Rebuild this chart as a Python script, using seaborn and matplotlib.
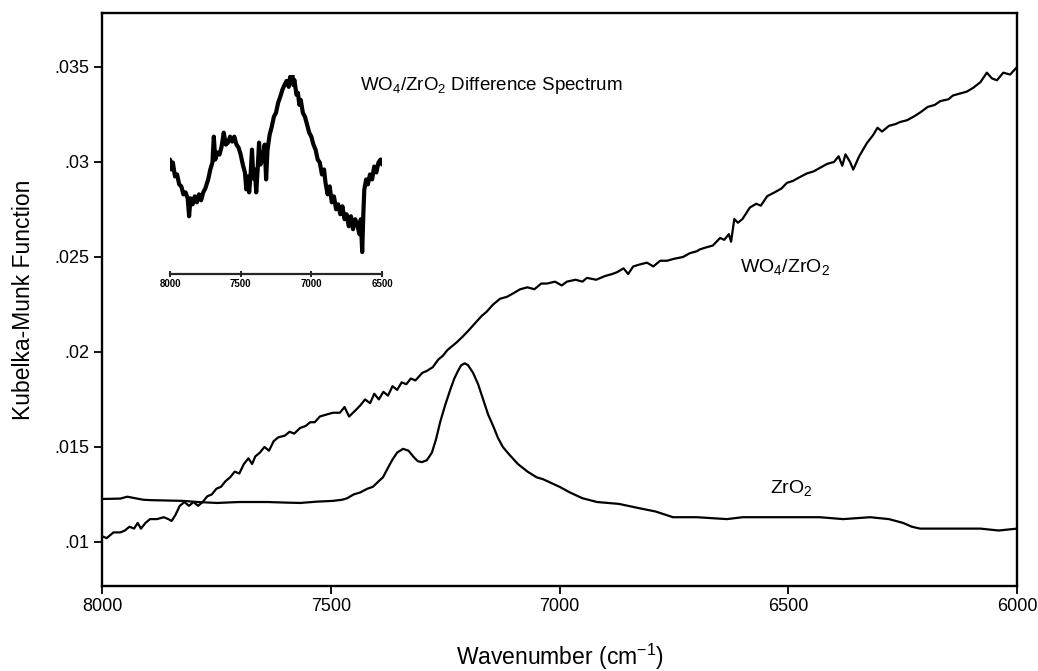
import matplotlib
matplotlib.use("Agg")
import matplotlib.pyplot as plt
import numpy as np
import pandas as pd
import seaborn as sns

# --- data ---
wo4_wn = [8000, 7990, 7975, 7960, 7950, 7940, 7930, 7922, 7915, 7905, 7895, 7880, 7865, 7855, 7848,
          7840, 7830, 7820, 7810, 7800, 7790, 7780, 7770, 7760, 7750, 7740, 7730, 7720, 7710, 7700,
          7690, 7680, 7672, 7665, 7655, 7645, 7635, 7625, 7615, 7600, 7590, 7580, 7567, 7555, 7545,
          7535, 7524, 7510, 7495, 7480, 7470, 7460, 7447, 7435, 7425, 7414, 7405, 7395, 7385, 7375,
          7365, 7355, 7345, 7335, 7325, 7315, 7300, 7290, 7277, 7265, 7255, 7245, 7235, 7225, 7212,
          7200, 7185, 7170, 7160, 7145, 7130, 7115, 7100, 7086, 7070, 7055, 7040, 7027, 7010, 6995,
          6984, 6965, 6950, 6940, 6920, 6900, 6885, 6874, 6860, 6850, 6839, 6825, 6809, 6795, 6780,
          6765, 6750, 6730, 6715, 6700, 6693, 6680, 6665, 6649, 6640, 6630, 6625, 6618, 6610, 6600,
          6584, 6570, 6560, 6546, 6530, 6515, 6503, 6490, 6475, 6459, 6445, 6430, 6415, 6400, 6390,
          6382, 6375, 6365, 6358, 6345, 6328, 6315, 6305, 6295, 6280, 6265, 6256, 6240, 6225, 6212,
          6195, 6180, 6168, 6150, 6140, 6125, 6110, 6096, 6080, 6066, 6055, 6044, 6030, 6015, 6000]
wo4_km = [0.0103, 0.0102, 0.0105, 0.0105, 0.0106, 0.0108, 0.0107, 0.0110, 0.0107, 0.0110, 0.0112, 0.0112,
          0.0113, 0.0112, 0.0111, 0.0114, 0.0119, 0.0121, 0.0119, 0.0121, 0.0119, 0.0121, 0.0124, 0.0125,
          0.0128, 0.0129, 0.0132, 0.0134, 0.0137, 0.0136, 0.0141, 0.0144, 0.0141, 0.0145, 0.0147, 0.0150,
          0.0148, 0.0153, 0.0155, 0.0156, 0.0158, 0.0157, 0.0160, 0.0161, 0.0163, 0.0163, 0.0166, 0.0167,
          0.0168, 0.0168, 0.0171, 0.0166, 0.0169, 0.0172, 0.0175, 0.0173, 0.0178, 0.0175, 0.0179, 0.0177,
          0.0182, 0.0180, 0.0184, 0.0183, 0.0186, 0.0185, 0.0189, 0.0190, 0.0192, 0.0196, 0.0198, 0.0201,
          0.0203, 0.0205, 0.0208, 0.0211, 0.0215, 0.0219, 0.0221, 0.0225, 0.0228, 0.0229, 0.0231, 0.0233,
          0.0234, 0.0233, 0.0236, 0.0236, 0.0237, 0.0235, 0.0237, 0.0238, 0.0237, 0.0239, 0.0238, 0.0240,
          0.0241, 0.0242, 0.0244, 0.0241, 0.0245, 0.0246, 0.0247, 0.0245, 0.0248, 0.0248, 0.0249, 0.0250,
          0.0252, 0.0253, 0.0254, 0.0255, 0.0256, 0.0260, 0.0259, 0.0262, 0.0258, 0.0270, 0.0268, 0.0270,
          0.0276, 0.0278, 0.0277, 0.0282, 0.0284, 0.0286, 0.0289, 0.0290, 0.0292, 0.0294, 0.0295, 0.0297,
          0.0299, 0.0300, 0.0303, 0.0298, 0.0304, 0.0300, 0.0296, 0.0303, 0.0310, 0.0314, 0.0318, 0.0316,
          0.0319, 0.0320, 0.0321, 0.0322, 0.0324, 0.0326, 0.0329, 0.0330, 0.0332, 0.0333, 0.0335, 0.0336,
          0.0337, 0.0339, 0.0342, 0.0347, 0.0344, 0.0343, 0.0347, 0.0346, 0.0350]

zro2_wn = [8000, 7960, 7945, 7932, 7910, 7895, 7860, 7823, 7790, 7749, 7700, 7639, 7600, 7567, 7530,
           7495, 7475, 7464, 7450, 7436, 7420, 7408, 7395, 7386, 7375, 7366, 7355, 7342, 7330, 7320,
           7310, 7301, 7290, 7279, 7270, 7261, 7250, 7239, 7230, 7222, 7215, 7207, 7200, 7189, 7178,
           7167, 7156, 7145, 7135, 7124, 7110, 7091, 7070, 7050, 7036, 7000, 6977, 6950, 6918, 6870,
           6831, 6790, 6752, 6700, 6634, 6600, 6518, 6470, 6431, 6380, 6321, 6280, 6249, 6230, 6212,
           6180, 6140, 6080, 6040, 6000]
zro2_km = [0.01226, 0.01228, 0.01238, 0.01232, 0.01222, 0.01220, 0.01218, 0.01216, 0.01210, 0.01205,
           0.01210, 0.01210, 0.01207, 0.01205, 0.01212, 0.01216, 0.01222, 0.0123, 0.0125, 0.0126,
           0.0128, 0.0129, 0.0132, 0.0134, 0.0139, 0.0143, 0.0147, 0.0149, 0.0148, 0.0145,
           0.01425, 0.0142, 0.0143, 0.0147, 0.0154, 0.0163, 0.0172, 0.0180, 0.0186, 0.0190,
           0.0193, 0.0194, 0.0193, 0.0189, 0.0183, 0.0175, 0.0167, 0.0161, 0.0155, 0.0150,
           0.0146, 0.0141, 0.0137, 0.0134, 0.0133, 0.0129, 0.0126, 0.0123, 0.0121, 0.0120,
           0.0118, 0.0116, 0.0113, 0.0113, 0.0112, 0.0113, 0.0113, 0.0113, 0.0113, 0.0112,
           0.0113, 0.0112, 0.0110, 0.0108, 0.0107, 0.0107, 0.0107, 0.0107, 0.0106, 0.0107]

# inset: difference spectrum (arbitrary units)
diff_wn = [8000, 7990, 7980, 7965, 7950, 7935, 7920, 7905, 7890, 7875, 7865, 7855, 7840, 7825, 7810,
           7795, 7780, 7765, 7750, 7730, 7715, 7700, 7690, 7680, 7665, 7650, 7635, 7620, 7605, 7590,
           7575, 7560, 7545, 7530, 7515, 7500, 7485, 7470, 7460, 7450, 7440, 7430, 7420, 7410, 7400,
           7390, 7380, 7370, 7360, 7345, 7330, 7320, 7310, 7295, 7280, 7265, 7250, 7235, 7220, 7205,
           7190, 7175, 7160, 7150, 7140, 7135, 7128, 7120, 7105, 7095, 7085, 7075, 7060, 7045, 7030,
           7015, 7000, 6985, 6970, 6955, 6940, 6925, 6910, 6900, 6885, 6870, 6855, 6840, 6825, 6810,
           6795, 6780, 6765, 6750, 6735, 6720, 6705, 6690, 6675, 6660, 6650, 6640, 6632, 6625, 6612,
           6600, 6585, 6570, 6555, 6540, 6525, 6510, 6500]
diff_au = [1.15, 1.05, 1.12, 0.98, 1.00, 0.90, 0.88, 0.80, 0.82, 0.76, 0.58, 0.76, 0.70, 0.78, 0.72,
           0.80, 0.74, 0.82, 0.86, 0.95, 1.05, 1.12, 1.38, 1.15, 1.22, 1.20, 1.28, 1.42, 1.30, 1.32,
           1.38, 1.33, 1.38, 1.30, 1.27, 1.20, 1.10, 1.02, 0.85, 0.98, 0.82, 0.99, 1.25, 0.96, 1.05,
           0.82, 1.05, 1.32, 1.10, 1.15, 1.30, 0.95, 1.25, 1.40, 1.48, 1.58, 1.62, 1.72, 1.78, 1.85,
           1.90, 1.94, 1.88, 1.98, 1.92, 2.00, 1.90, 1.95, 1.80, 1.82, 1.70, 1.75, 1.62, 1.58, 1.50,
           1.42, 1.38, 1.30, 1.25, 1.15, 1.12, 1.00, 1.05, 0.92, 0.80, 0.88, 0.72, 0.78, 0.65, 0.70,
           0.60, 0.68, 0.55, 0.60, 0.48, 0.58, 0.45, 0.55, 0.50, 0.40, 0.55, 0.22, 0.60, 0.85, 0.95,
           0.90, 1.00, 0.95, 1.08, 1.02, 1.12, 1.15, 1.10]

ytick_vals = [0.01, 0.015, 0.02, 0.025, 0.03, 0.035]
ytick_labels = [".01", ".015", ".02", ".025", ".03", ".035"]
xtick_vals = [8000, 7500, 7000, 6500, 6000]
inset_ticks = [8000, 7500, 7000, 6500]

sns.set_style("ticks")
plt.rcParams["font.family"] = ["Liberation Sans", "DejaVu Sans"]
plt.rcParams["mathtext.default"] = "regular"
plt.rcParams["text.color"] = "black"
plt.rcParams["axes.labelcolor"] = "black"
plt.rcParams["xtick.color"] = "black"
plt.rcParams["ytick.color"] = "black"

fig = plt.figure(figsize=(10.38, 6.71), dpi=100)
ax = fig.add_axes([0.0983, 0.1267, 0.8815, 0.8539])

sns.lineplot(x=wo4_wn, y=wo4_km, ax=ax, color="black", lw=1.6)
sns.lineplot(x=zro2_wn, y=zro2_km, ax=ax, color="black", lw=1.6)

ax.set_xlim(8000, 6000)
ax.set_ylim(0.00768, 0.03784)
ax.set_xticks(xtick_vals)
ax.set_xticklabels([str(v) for v in xtick_vals], fontsize=13)
ax.set_yticks(ytick_vals)
ax.set_yticklabels(ytick_labels, fontsize=13)
ax.tick_params(axis="both", direction="out", length=6, width=1.3, color="black", pad=3)
for s in ax.spines.values():
    s.set_linewidth(1.7)
    s.set_color("black")

ax.set_xlabel("Wavenumber (cm$^{-1}$)", fontsize=16.5, labelpad=19)
ax.set_ylabel("Kubelka-Munk Function", fontsize=16.5, labelpad=14)

ax.text(7436, 0.03405, "WO$_4$/ZrO$_2$ Difference Spectrum", fontsize=13.5, va="center", ha="left")
ax.text(6605, 0.02447, "WO$_4$/ZrO$_2$", fontsize=14, va="center", ha="left")
ax.text(6540, 0.01284, "ZrO$_2$", fontsize=14, va="center", ha="left")

# inset difference spectrum
ins = fig.add_axes([0.1638, 0.5917, 0.2042, 0.2966])
ins.patch.set_alpha(0)
sns.lineplot(x=diff_wn, y=diff_au, ax=ins, color="black", lw=3.0)
ins.set_xlim(8000, 6500)
ins.set_ylim(0, 2.0)
ins.set_xticks(inset_ticks)
ins.set_xticklabels([str(v) for v in inset_ticks], fontsize=7, fontweight="bold")
ins.set_yticks([])
ins.set_xlabel("")
ins.set_ylabel("")
ins.tick_params(axis="x", direction="inout", length=5, width=1.2, pad=1)
for side in ["left", "right", "top"]:
    ins.spines[side].set_visible(False)
ins.spines["bottom"].set_linewidth(1.6)

fig.savefig("out.png", dpi=100)
